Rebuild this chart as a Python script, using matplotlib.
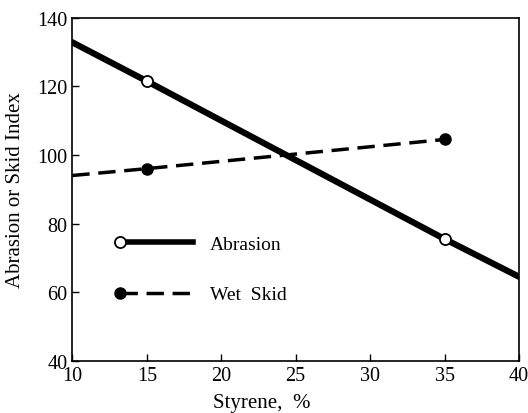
import matplotlib.pyplot as plt
from matplotlib.lines import Line2D
from matplotlib.legend_handler import HandlerLine2D

styrene_abr = [10, 15, 35, 40]
abrasion = [132.8, 121.5, 75.5, 64.5]
abr_marker_idx = [1, 2]

styrene_skid = [10, 15, 35]
wet_skid = [94.0, 96.0, 104.5]
skid_marker_idx = [1, 2]


class LeftMarkerHandler(HandlerLine2D):
    # legend line with a marker only at its left end
    def create_artists(self, legend, orig_handle, xdescent, ydescent,
                       width, height, fontsize, trans):
        arts = super().create_artists(legend, orig_handle, xdescent, ydescent,
                                      width, height, fontsize, trans)
        arts[-1].set_markevery([0])
        return arts


plt.rcParams['font.family'] = ['Liberation Serif', 'DejaVu Serif']

fig, ax = plt.subplots(figsize=(5.28, 4.14), dpi=100)
fig.subplots_adjust(left=0.137, right=0.983, top=0.955, bottom=0.126)

ax.plot(styrene_abr, abrasion, '-', color='black', linewidth=4.5,
        marker='o', markevery=abr_marker_idx, markersize=8,
        markerfacecolor='white', markeredgecolor='black', markeredgewidth=1.3)
ax.plot(styrene_skid, wet_skid, '--', color='black', linewidth=2.5,
        dashes=(5, 2.5), marker='o', markevery=skid_marker_idx, markersize=8,
        markerfacecolor='black', markeredgecolor='black')

h1 = Line2D([], [], color='black', linewidth=4, marker='o',
            markersize=8, markerfacecolor='white', markeredgecolor='black', markeredgewidth=1.3)
h2 = Line2D([], [], color='black', linewidth=2.5, linestyle='--', dashes=(5, 2.5),
            marker='o', markersize=8, markerfacecolor='black')
ax.legend([h1, h2], ['Abrasion', 'Wet  Skid'], loc='upper left',
          bbox_to_anchor=(0.054, 0.417), frameon=False, numpoints=2,
          handler_map={h1: LeftMarkerHandler(), h2: LeftMarkerHandler()},
          handlelength=4.35, handletextpad=0.6, labelspacing=1.7, fontsize=14)

ax.set_xlim(10, 40)
ax.set_ylim(40, 140)
ax.set_xticks([10, 15, 20, 25, 30, 35, 40])
ax.set_yticks([40, 60, 80, 100, 120, 140])
ax.tick_params(direction='in', length=5, width=1, labelsize=14.5, top=False, right=False)
for s in ax.spines.values():
    s.set_linewidth(1.2)

ax.set_xlabel('Styrene,  %', fontsize=15)
ax.xaxis.set_label_coords(0.425, -0.095)
ax.set_ylabel('Abrasion or Skid Index', fontsize=15)
ax.yaxis.set_label_coords(-0.105, 0.5)

fig.savefig('out.png', dpi=100)
